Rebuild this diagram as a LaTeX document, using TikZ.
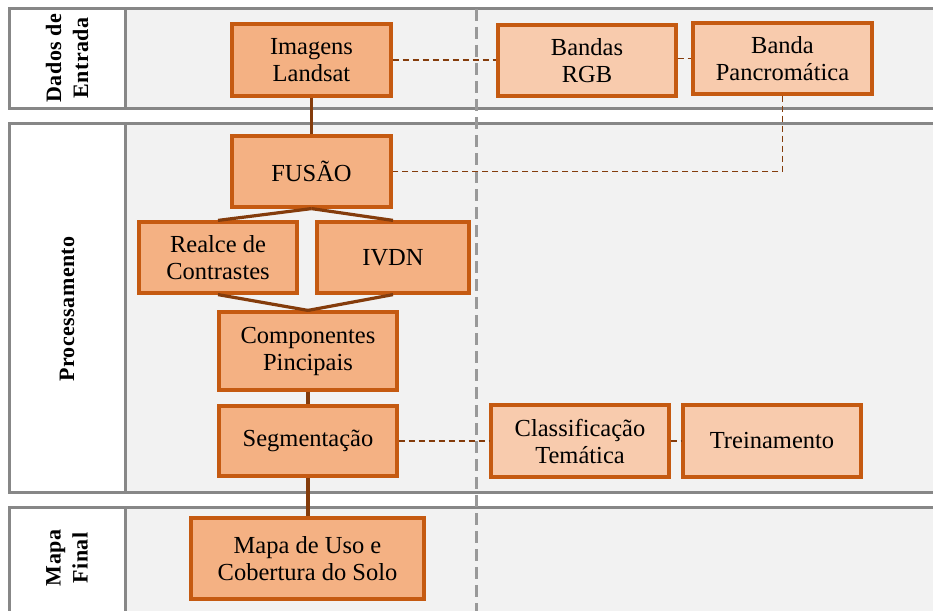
\documentclass[tikz,border=0pt]{standalone}
\usepackage{fontspec}
\setmainfont{Liberation Serif}
\definecolor{procfill}{HTML}{F4B183}
\definecolor{datafill}{HTML}{F8CBAD}
\definecolor{boxline}{HTML}{C55A11}
\definecolor{linkcol}{HTML}{843C0C}
\definecolor{lanegray}{HTML}{878787}
\definecolor{lanefill}{HTML}{F2F2F2}
\definecolor{divgray}{HTML}{999999}
\tikzset{
  x=1pt, y=-1pt,
  lane/.style={fill=lanefill, draw=lanegray, line width=3pt},
  lanehead/.style={fill=white, draw=lanegray, line width=3pt},
  lanelabel/.style={rotate=90, align=center,
    font=\fontsize{22}{27}\selectfont\bfseries\addfontfeatures{LetterSpace=2}},
  box/.style={draw=boxline, line width=3.2pt, inner sep=0pt, align=center,
    font=\fontsize{24.5}{27}\selectfont},
  procbox/.style={box, fill=procfill},
  databox/.style={box, fill=datafill},
  flow/.style={draw=linkcol, line width=3.2pt},
  assoc/.style={draw=linkcol, line width=1.5pt, dash pattern=on 6pt off 4pt},
  divider/.style={draw=divgray, line width=3pt, dash pattern=on 12pt off 6pt}
}
\begin{document}
\begin{tikzpicture}
\useasboundingbox (0,0) rectangle (933,610);
\clip (0,0) rectangle (933,610);

% swimlanes
\fill[white] (0,0) rectangle (933,610);
\draw[lane] (9,9) rectangle (950,108);
\draw[lanehead] (9,9) rectangle (125,108);
\draw[lane] (9,123) rectangle (950,492);
\draw[lanehead] (9,123) rectangle (125,492);
\draw[lane] (9,507) rectangle (950,640);
\draw[lanehead] (9,507) rectangle (125,640);

\node[lanelabel] (l1) at (67,58) {Dados de\\Entrada};
\node[lanelabel] (l2) at (67,309) {Processamento};
\node[lanelabel] (l3) at (67,558) {Mapa\\Final};

% column divider
\coordinate (dtop) at (476,9);
\coordinate (dbot) at (476,640);
\draw[divider] (dtop) -- (dbot);

% process boxes
\node[procbox, minimum width=159pt, minimum height=72pt] (img) at (311.5,60) {Imagens\\Landsat};
\node[databox, minimum width=178pt, minimum height=71pt] (rgb) at (587,60.5) {Bandas\\RGB};
\node[databox, minimum width=179pt, minimum height=71pt] (pan) at (782.5,58.5) {Banda\\Pancromática};
\node[procbox, minimum width=159pt, minimum height=71pt] (fus) at (311.5,171.5) {FUSÃO};
\node[procbox, minimum width=158pt, minimum height=71pt] (rea) at (218,257.5) {Realce de\\Contrastes};
\node[procbox, minimum width=152pt, minimum height=71pt] (ivdn) at (393,257.5) {IVDN};
\node[procbox, minimum width=178pt, minimum height=78pt] (pca) at (308,351) {Componentes\\Pincipais};
\node[procbox, minimum width=178pt, minimum height=70pt] (seg) at (308,441) {Segmentação};
\node[databox, minimum width=178pt, minimum height=72pt] (cls) at (580,441) {Classificação\\Temática};
\node[databox, minimum width=178pt, minimum height=72pt] (tre) at (772,441) {Treinamento};
\node[procbox, minimum width=233pt, minimum height=81pt] (map) at (307.5,558.5) {Mapa de Uso e\\Cobertura do Solo};

% main flow
\draw[flow] (img.south) -- (fus.north);
\draw[flow] (fus.south) -- (rea.north);
\draw[flow] (fus.south) -- (ivdn.north);
\draw[flow] (rea.south) -- (pca.north);
\draw[flow] (ivdn.south) -- (pca.north);
\draw[flow] (pca.south) -- (seg.north);
\draw[flow] (seg.south) -- (seg.south |- map.north);

% associations
\draw[assoc] (img.east) -- (img.east -| rgb.west);
\draw[assoc] (rgb.east |- pan.west) -- (pan.west);
\draw[assoc] (pan.south) |- (fus.east);
\draw[assoc] (seg.east) -- (cls.west);
\draw[assoc] (cls.east) -- (tre.west);
\end{tikzpicture}
\end{document}
